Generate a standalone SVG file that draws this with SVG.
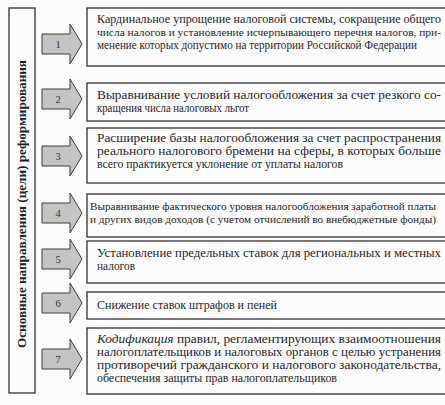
<svg xmlns="http://www.w3.org/2000/svg" width="445" height="405" viewBox="0 0 445 405">
<style>
.bg{fill:#fbfbfb}
.box{fill:#fbfbfb;stroke:#2e2e2e;stroke-width:1.3}
.arr{fill:#c4c4c4;stroke:#3e3e3e;stroke-width:1}
.t{font-family:"Liberation Serif","DejaVu Serif",serif;font-size:12px;fill:#1f1f1f}
.s{font-size:11px}
.n{font-family:"Liberation Serif","DejaVu Serif",serif;font-size:10.5px;fill:#333;text-anchor:middle}
.v{font-family:"Liberation Serif","DejaVu Serif",serif;font-size:12px;font-weight:bold;fill:#1e1e1e;text-anchor:middle}
</style>
<defs>
<path id="arrow" d="M0,-10 H28 V-20 L40,0 L28,20 V10 H0 Z"/>
</defs>
<rect class="bg" x="0" y="0" width="445" height="405"/>
<g id="main">
<rect class="box" x="9" y="8" width="26" height="385"/>
<text class="v" transform="translate(26,204) rotate(-90)" textLength="288" lengthAdjust="spacingAndGlyphs">Основные направления (цели) реформирования</text>
</g>
<g id="connectors">
<use href="#arrow" class="arr" transform="translate(42,44)"/>
<use href="#arrow" class="arr" transform="translate(42,99)"/>
<use href="#arrow" class="arr" transform="translate(42,156)"/>
<use href="#arrow" class="arr" transform="translate(42,213)"/>
<use href="#arrow" class="arr" transform="translate(42,259)"/>
<use href="#arrow" class="arr" transform="translate(42,303)"/>
<use href="#arrow" class="arr" transform="translate(42,359)"/>
<text class="n" x="58" y="48">1</text>
<text class="n" x="58" y="103">2</text>
<text class="n" x="58" y="160">3</text>
<text class="n" x="58" y="217">4</text>
<text class="n" x="58" y="263">5</text>
<text class="n" x="58" y="307">6</text>
<text class="n" x="58" y="363">7</text>
</g>
<g id="n1">
<rect class="box" x="87" y="8" width="370" height="58"/>
<text class="t" x="97" y="23" textLength="344" lengthAdjust="spacingAndGlyphs">Кардинальное упрощение налоговой системы, сокращение общего</text>
<text class="t s" x="97" y="36" textLength="344" lengthAdjust="spacingAndGlyphs">числа налогов и установление исчерпывающего перечня налогов, при-</text>
<text class="t" x="97" y="49" textLength="320" lengthAdjust="spacingAndGlyphs">менение которых допустимо на территории Российской Федерации</text>
</g>
<g id="n2">
<rect class="box" x="87" y="83" width="370" height="38"/>
<text class="t" x="97" y="99" textLength="344" lengthAdjust="spacingAndGlyphs">Выравнивание условий налогообложения за счет резкого со-</text>
<text class="t" x="97" y="112" textLength="152" lengthAdjust="spacingAndGlyphs">кращения числа налоговых льгот</text>
</g>
<g id="n3">
<rect class="box" x="87" y="128" width="370" height="55"/>
<text class="t" x="97" y="142" textLength="344" lengthAdjust="spacingAndGlyphs">Расширение базы налогообложения за счет распространения</text>
<text class="t" x="97" y="155" textLength="344" lengthAdjust="spacingAndGlyphs">реального налогового бремени на сферы, в которых больше</text>
<text class="t" x="97" y="168" textLength="246" lengthAdjust="spacingAndGlyphs">всего практикуется уклонение от уплаты налогов</text>
</g>
<g id="n4">
<rect class="box" x="87" y="194" width="370" height="43"/>
<text class="t s" x="90" y="210" textLength="346" lengthAdjust="spacingAndGlyphs">Выравнивание фактического уровня налогообложения заработной платы</text>
<text class="t s" x="90" y="223" textLength="346" lengthAdjust="spacingAndGlyphs">и других видов доходов (с учетом отчислений во внебюджетные фонды)</text>
</g>
<g id="n5">
<rect class="box" x="87" y="241" width="370" height="42"/>
<text class="t" x="97" y="257" textLength="344" lengthAdjust="spacingAndGlyphs">Установление предельных ставок для региональных и местных</text>
<text class="t" x="97" y="270" textLength="38" lengthAdjust="spacingAndGlyphs">налогов</text>
</g>
<g id="n6">
<rect class="box" x="87" y="292" width="370" height="27"/>
<text class="t" x="97" y="309" textLength="180" lengthAdjust="spacingAndGlyphs">Снижение ставок штрафов и пеней</text>
</g>
<g id="n7">
<rect class="box" x="87" y="328" width="370" height="66"/>
<text class="t" x="97" y="343" textLength="344" lengthAdjust="spacingAndGlyphs"><tspan font-style="italic">Кодификация</tspan> правил, регламентирующих взаимоотношения</text>
<text class="t" x="97" y="356" textLength="344" lengthAdjust="spacingAndGlyphs">налогоплательщиков и налоговых органов с целью устранения</text>
<text class="t" x="97" y="369" textLength="344" lengthAdjust="spacingAndGlyphs">противоречий гражданского и налогового законодательства,</text>
<text class="t" x="97" y="382" textLength="240" lengthAdjust="spacingAndGlyphs">обеспечения защиты прав налогоплательщиков</text>
</g>
</svg>
